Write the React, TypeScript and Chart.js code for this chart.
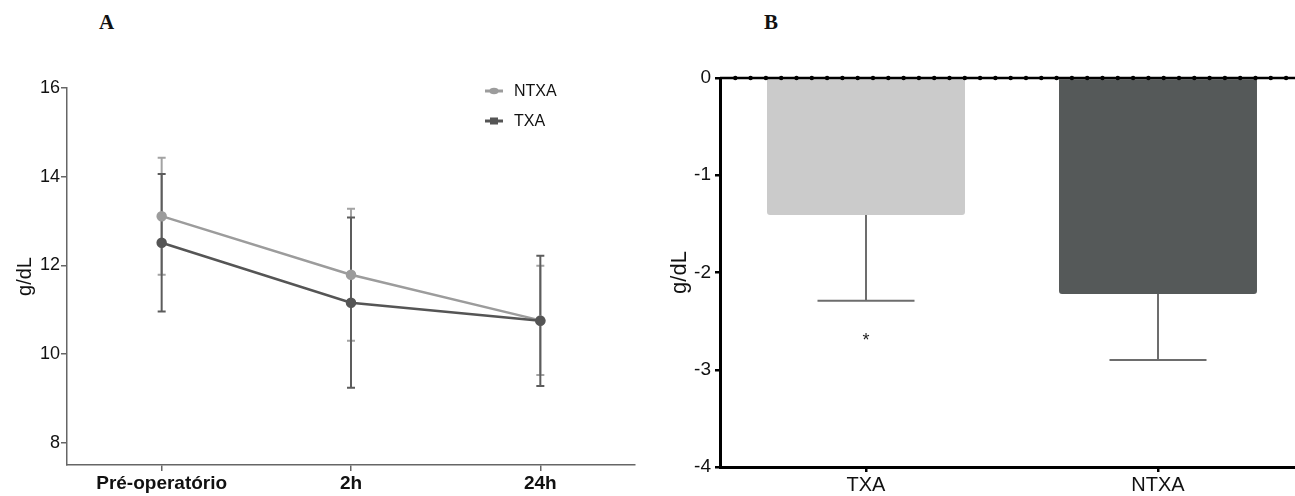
import React, { useEffect, useRef } from 'react';
import { Chart, registerables } from 'chart.js';

Chart.register(...registerables);

// ---- Panel A data ----
const timeLabels = ['Pré-operatório', '2h', '24h'];
const ntxaMean = [13.11, 11.79, 10.76];
const ntxaSD = [1.32, 1.49, 1.23];
const txaMean = [12.51, 11.16, 10.75];
const txaSD = [1.55, 1.92, 1.47];
const yTicksA = [8, 10, 12, 14, 16];

// ---- Panel B data ----
const groupLabels = ['TXA', 'NTXA'];
const deltaMean = [-1.41, -2.22];
const deltaSD = [0.88, 0.68];
const deltaSig = ['*', ''];
const yTicksB = [0, -1, -2, -3, -4];

const SANS = '"Liberation Sans", Arial, sans-serif';

const errorBarsA = {
  id: 'errorBarsA',
  beforeDatasetsDraw(chart: any) {
    const ctx = chart.ctx;
    const y = chart.scales.y;
    chart.data.datasets.forEach((ds: any, di: number) => {
      const meta = chart.getDatasetMeta(di);
      ctx.save();
      ctx.strokeStyle = ds.errorColor;
      ctx.lineWidth = 2;
      meta.data.forEach((pt: any, i: number) => {
        const v = ds.data[i];
        const e = ds.errors[i];
        const yt = y.getPixelForValue(v + e);
        const yb = y.getPixelForValue(v - e);
        ctx.beginPath();
        ctx.moveTo(pt.x, yt);
        ctx.lineTo(pt.x, yb);
        ctx.moveTo(pt.x - 4, yt);
        ctx.lineTo(pt.x + 4, yt);
        ctx.moveTo(pt.x - 4, yb);
        ctx.lineTo(pt.x + 4, yb);
        ctx.stroke();
      });
      ctx.restore();
    });
  },
};

const legendA = {
  id: 'legendA',
  afterDraw(chart: any) {
    const ctx = chart.ctx;
    const items = chart.data.datasets;
    const x0 = 485;
    const rows = [91, 121];
    ctx.save();
    items.forEach((ds: any, i: number) => {
      const yy = rows[i];
      ctx.strokeStyle = ds.borderColor;
      ctx.fillStyle = ds.borderColor;
      ctx.lineWidth = 3;
      ctx.beginPath();
      ctx.moveTo(x0, yy);
      ctx.lineTo(x0 + 18, yy);
      ctx.stroke();
      if (ds.legendMarker === 'rect') {
        ctx.fillRect(x0 + 5, yy - 3.5, 8, 7);
      } else {
        ctx.beginPath();
        ctx.ellipse(x0 + 9, yy, 4.5, 3.2, 0, 0, Math.PI * 2);
        ctx.fill();
      }
      ctx.fillStyle = '#111';
      ctx.font = '16px ' + SANS;
      ctx.textBaseline = 'middle';
      ctx.textAlign = 'left';
      ctx.fillText(ds.label, x0 + 29, yy + 1);
    });
    ctx.restore();
  },
};

const decorB = {
  id: 'decorB',
  afterDatasetsDraw(chart: any) {
    const ctx = chart.ctx;
    const y = chart.scales.y;
    const area = chart.chartArea;
    const ds = chart.data.datasets[0];
    const meta = chart.getDatasetMeta(0);
    ctx.save();
    ctx.strokeStyle = '#6d6d6d';
    ctx.lineWidth = 2;
    meta.data.forEach((bar: any, i: number) => {
      const v = ds.data[i];
      const e = ds.errors[i];
      const yStart = y.getPixelForValue(v);
      const yEnd = y.getPixelForValue(v - e);
      const hw = bar.width * 0.245;
      ctx.beginPath();
      ctx.moveTo(bar.x, yStart);
      ctx.lineTo(bar.x, yEnd);
      ctx.moveTo(bar.x - hw, yEnd);
      ctx.lineTo(bar.x + hw, yEnd);
      ctx.stroke();
      const sig = ds.sig[i];
      if (sig) {
        ctx.fillStyle = '#222';
        ctx.font = '18px ' + SANS;
        ctx.textAlign = 'center';
        ctx.textBaseline = 'middle';
        ctx.fillText(sig, bar.x, yEnd + 40);
      }
    });
    const y0 = y.getPixelForValue(0);
    ctx.strokeStyle = '#000';
    ctx.lineWidth = 2.5;
    ctx.beginPath();
    ctx.moveTo(area.left, y0);
    ctx.lineTo(area.right, y0);
    ctx.stroke();
    ctx.fillStyle = '#000';
    for (let px = area.left + 15.3; px <= area.right; px += 15.3) {
      ctx.beginPath();
      ctx.arc(px, y0, 2.2, 0, Math.PI * 2);
      ctx.fill();
    }
    ctx.restore();
  },
};

export default function App() {
  const refA = useRef<HTMLCanvasElement | null>(null);
  const refB = useRef<HTMLCanvasElement | null>(null);

  useEffect(() => {
    const chartA = new Chart(refA.current as HTMLCanvasElement, {
      type: 'line',
      data: {
        labels: timeLabels,
        datasets: [
          {
            label: 'NTXA',
            data: ntxaMean,
            errors: ntxaSD,
            errorColor: '#a3a3a3',
            borderColor: '#9c9c9c',
            backgroundColor: '#9c9c9c',
            borderWidth: 2.5,
            pointRadius: 4,
            pointStyle: 'circle',
            legendMarker: 'circle',
            order: 1,
          } as any,
          {
            label: 'TXA',
            data: txaMean,
            errors: txaSD,
            errorColor: '#5c5c5c',
            borderColor: '#555555',
            backgroundColor: '#555555',
            borderWidth: 2.5,
            pointRadius: 4,
            pointStyle: 'circle',
            legendMarker: 'rect',
            order: 0,
          } as any,
        ],
      },
      options: {
        responsive: false,
        animation: false,
        layout: { padding: { top: 88, right: 25, left: 0, bottom: 0 } },
        plugins: { legend: { display: false }, tooltip: { enabled: false } },
        scales: {
          x: {
            type: 'category',
            offset: true,
            grid: { display: true, drawOnChartArea: false, offset: false, tickLength: 6, color: '#666', lineWidth: 1.5 },
            border: { display: true, color: '#666', width: 1.5 },
            ticks: { color: '#111', font: { family: SANS, size: 19, weight: 'bold' }, padding: 1, maxRotation: 0 },
            afterFit(s: any) { s.height = 31; },
          },
          y: {
            min: 7.5,
            max: 16,
            afterBuildTicks(s: any) { s.ticks = yTicksA.map((v) => ({ value: v })); },
            grid: { display: true, drawOnChartArea: false, tickLength: 6, color: '#666', lineWidth: 1.5 },
            border: { display: true, color: '#666', width: 1.5 },
            ticks: { color: '#111', font: { family: SANS, size: 18 }, padding: 1 },
            title: { display: true, text: 'g/dL', color: '#111', font: { family: SANS, size: 20 }, padding: { top: 13, bottom: 0 } },
            afterFit(s: any) { s.width = 67; },
          },
        },
      },
      plugins: [errorBarsA, legendA],
    } as any);

    const chartB = new Chart(refB.current as HTMLCanvasElement, {
      type: 'bar',
      data: {
        labels: groupLabels,
        datasets: [
          {
            data: deltaMean,
            errors: deltaSD,
            sig: deltaSig,
            backgroundColor: ['#cbcbcb', '#555959'],
            borderRadius: 3,
            borderSkipped: 'start',
            categoryPercentage: 1,
            barPercentage: 0.678,
          } as any,
        ],
      },
      options: {
        responsive: false,
        animation: false,
        layout: { padding: { top: 78, right: 6, left: 0, bottom: 0 } },
        plugins: { legend: { display: false }, tooltip: { enabled: false } },
        scales: {
          x: {
            type: 'category',
            offset: true,
            grid: { display: true, drawOnChartArea: false, offset: false, tickLength: 5, color: '#000', lineWidth: 2.5 },
            border: { display: true, color: '#000', width: 3 },
            ticks: { color: '#111', font: { family: SANS, size: 20 }, padding: 1 },
            afterFit(s: any) { s.height = 29; },
          },
          y: {
            min: -4,
            max: 0,
            afterBuildTicks(s: any) { s.ticks = yTicksB.map((v) => ({ value: v })); },
            grid: { display: true, drawOnChartArea: false, tickLength: 5, color: '#000', lineWidth: 2.5 },
            border: { display: true, color: '#000', width: 3 },
            ticks: { color: '#111', font: { family: SANS, size: 19 }, padding: 4 },
            title: { display: true, text: 'g/dL', color: '#111', font: { family: SANS, size: 22 }, padding: { top: 17, bottom: 0 } },
            afterFit(s: any) { s.width = 70; },
          },
        },
      },
      plugins: [decorB],
    } as any);

    return () => {
      chartA.destroy();
      chartB.destroy();
    };
  }, []);

  return (
    <div style={{ position: 'absolute', left: 0, top: 0, width: 1295, height: 496, overflow: 'hidden', background: '#fff' }}>
      <div style={{ position: 'absolute', left: 99, top: 10, font: 'bold 21px "Liberation Serif", "Times New Roman", serif', color: '#111' }}>A</div>
      <div style={{ position: 'absolute', left: 764, top: 10, font: 'bold 21px "Liberation Serif", "Times New Roman", serif', color: '#111' }}>B</div>
      <canvas ref={refA} width={660} height={496} style={{ position: 'absolute', left: 0, top: 0, width: 660, height: 496 }} />
      <canvas ref={refB} width={660} height={496} style={{ position: 'absolute', left: 650, top: 0, width: 660, height: 496 }} />
    </div>
  );
}
